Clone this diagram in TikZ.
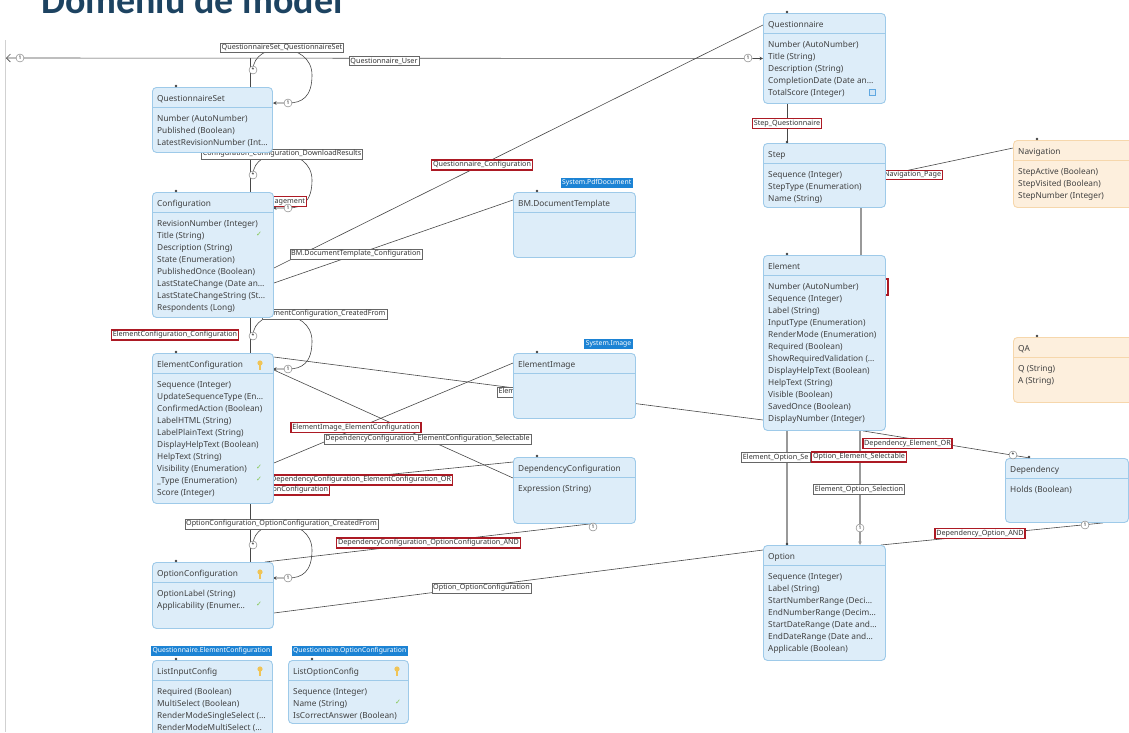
\documentclass[tikz,border=0pt]{standalone}
\usepackage{fontspec}
\usepackage{tikz}
\usetikzlibrary{arrows.meta,calc}
\newfontfamily\diafont{Noto Sans}
\newfontfamily\titlefont{Carlito}
\newfontfamily\symfont{DejaVu Sans}
\definecolor{boxblue}{RGB}{221,237,249}
\definecolor{boxedge}{RGB}{158,202,233}
\definecolor{boxorange}{RGB}{253,239,221}
\definecolor{edgeorange}{RGB}{246,215,172}
\definecolor{tagblue}{RGB}{28,131,212}
\definecolor{labelred}{RGB}{172,26,36}
\definecolor{titleblue}{RGB}{29,67,97}
\definecolor{linegray}{RGB}{72,72,72}
\definecolor{okgreen}{RGB}{126,196,72}
\definecolor{keyyellow}{RGB}{240,196,86}
\pgfdeclarelayer{lines}
\pgfdeclarelayer{labels}
\pgfsetlayers{lines,labels,main}

% entity box: [style]{name}{x}{y}{width}{height}{header}
\newcommand{\umlbox}[7][entity]{%
  \node[#1, minimum width=#5pt, minimum height=#6pt] (#2) at (#3,#4) {};
  \draw[#1, fill=none, rounded corners=0pt] ([yshift=-20pt]#2.north west) -- ([yshift=-20pt]#2.north east);
  \fill[black!75] ([xshift=24pt,yshift=1pt]#2.north west) circle (1.3pt);
  \node[attr] (#2-head) at ([xshift=5pt,yshift=-14pt]#2.north west) {#7};
}
% attribute lines of a box
\newcommand{\attrs}[2]{%
  \foreach \t [count=\i] in {#2}
    \node[attr] (#1-a\i) at ([xshift=5pt,yshift={-22pt-12pt*\i}]#1.north west) {\t};
}
\newcommand{\keyicon}[2]{%
  \begin{scope}[shift={(#1,#2)}]
    \fill[keyyellow] (0,-2) circle (2.6pt);
    \fill[keyyellow] (-0.9,0) rectangle (0.9,5);
  \end{scope}
}
\newcommand{\okmark}[3]{\node[text=okgreen, inner sep=0pt, font=\symfont\fontsize{7}{7}\selectfont] (#1) at (#2,#3) {✓};}
% self association drawn on the right of a box
\newcommand{\selfloop}[1]{%
  \begin{scope}[shift={(#1.north west)}]
    \draw[conn, tip] (101,-17) .. controls (101,-46) and (160,-46) .. (160,-12)
      .. controls (160,10) and (150,16) .. (136,16) -- (121,16);
  \end{scope}
}
\newcommand{\loopmarks}[1]{%
  \begin{scope}[shift={(#1.north west)}]
    \node[mult] (#1-m1) at (101,-17) {*};
    \node[mult] (#1-m2) at (136,16) {1};
  \end{scope}
}

\begin{document}
\begin{tikzpicture}[x=1pt,y=-1pt,
    entity/.style={draw=boxedge, fill=boxblue, line width=0.9pt, rounded corners=4pt, anchor=north west, inner sep=0pt},
    orangeentity/.style={entity, draw=edgeorange, fill=boxorange},
    attr/.style={anchor=base west, inner sep=0pt, font=\diafont\fontsize{8.3}{10}\selectfont, text=black!75},
    lbl/.style={draw=black!60, fill=white, line width=0.5pt, inner sep=1.3pt, font=\diafont\fontsize{7.2}{8}\selectfont, text=black!80},
    redlbl/.style={lbl, draw=labelred, line width=1.3pt},
    tag/.style={fill=tagblue, text=white, inner sep=1.6pt, anchor=south east, font=\diafont\fontsize{6.8}{7}\selectfont},
    conn/.style={draw=linegray, line width=0.6pt},
    heavy/.style={draw=black!40, line width=1.7pt},
    mult/.style={circle, draw=black!55, fill=white, inner sep=0pt, minimum size=8pt, font=\diafont\fontsize{5}{5}\selectfont},
    tip/.style={-{Stealth[length=3.5pt,width=3.5pt]}}]
  \useasboundingbox (0,0) rectangle (1129,732);
  \clip (0,0) rectangle (1129,732);

  % Title
  \node[anchor=base west, inner sep=0pt, text=titleblue, font=\titlefont\bfseries\fontsize{38}{40}\selectfont] (title) at (41,13.5) {Domeniu de model};
  \draw[black!18, line width=0.8pt] (5,40) -- (5,732);

  % Right column
  \umlbox{quest}{763}{13}{122}{90}{Questionnaire}
  \attrs{quest}{{Number (AutoNumber)}, {Title (String)}, {Description (String)}, {CompletionDate (Date an\dots}, {TotalScore (Integer)}}
  \draw[tagblue!70, fill=tagblue!20] (869,89) rectangle (875,95);
  \umlbox{step}{763}{143}{122}{64}{Step}
  \attrs{step}{{Sequence (Integer)}, {StepType (Enumeration)}, {Name (String)}}
  \umlbox[orangeentity]{nav}{1013}{140}{130}{67}{Navigation}
  \attrs{nav}{{StepActive (Boolean)}, {StepVisited (Boolean)}, {StepNumber (Integer)}}
  \umlbox[orangeentity]{qa}{1013}{337}{130}{65}{QA}
  \attrs{qa}{{Q (String)}, {A (String)}}
  \umlbox{elem}{763}{255}{122}{175}{Element}
  \attrs{elem}{{Number (AutoNumber)}, {Sequence (Integer)}, {Label (String)}, {InputType (Enumeration)}, {RenderMode (Enumeration)}, {Required (Boolean)}, {ShowRequiredValidation (\dots}, {DisplayHelpText (Boolean)}, {HelpText (String)}, {Visible (Boolean)}, {SavedOnce (Boolean)}, {DisplayNumber (Integer)}}
  \umlbox{dep}{1005}{458}{123}{64}{Dependency}
  \attrs{dep}{{Holds (Boolean)}}
  \umlbox{opt}{763}{545}{122}{115}{Option}
  \attrs{opt}{{Sequence (Integer)}, {Label (String)}, {StartNumberRange (Deci\dots}, {EndNumberRange (Decim\dots}, {StartDateRange (Date and\dots}, {EndDateRange (Date and\dots}, {Applicable (Boolean)}}

  % Left column
  \umlbox{qset}{152}{87}{120}{65}{QuestionnaireSet}
  \attrs{qset}{{Number (AutoNumber)}, {Published (Boolean)}, {LatestRevisionNumber (Int\dots}}
  \umlbox{cfg}{152}{192}{121}{125}{Configuration}
  \attrs{cfg}{{RevisionNumber (Integer)}, {Title (String)}, {Description (String)}, {State (Enumeration)}, {PublishedOnce (Boolean)}, {LastStateChange (Date an\dots}, {LastStateChangeString (St\dots}, {Respondents (Long)}}
  \okmark{cfg-ok}{259}{234}
  \umlbox{elcfg}{152}{353}{121}{150}{ElementConfiguration}
  \attrs{elcfg}{{Sequence (Integer)}, {UpdateSequenceType (En\dots}, {ConfirmedAction (Boolean)}, {LabelHTML (String)}, {LabelPlainText (String)}, {DisplayHelpText (Boolean)}, {HelpText (String)}, {Visibility (Enumeration)}, {\_Type (Enumeration)}, {Score (Integer)}}
  \keyicon{260}{365}
  \okmark{elcfg-ok1}{259}{467}
  \okmark{elcfg-ok2}{259}{479}
  \umlbox{optcfg}{152}{562}{121}{66}{OptionConfiguration}
  \attrs{optcfg}{{OptionLabel (String)}, {Applicability (Enumer\dots}}
  \keyicon{260}{574}
  \okmark{optcfg-ok}{259}{604}
  \umlbox{listin}{152}{660}{120}{90}{ListInputConfig}
  \attrs{listin}{{Required (Boolean)}, {MultiSelect (Boolean)}, {RenderModeSingleSelect (\dots}, {RenderModeMultiSelect (\dots}}
  \keyicon{260}{671}
  \umlbox{listopt}{288}{660}{120}{63}{ListOptionConfig}
  \attrs{listopt}{{Sequence (Integer)}, {Name (String)}, {IsCorrectAnswer (Boolean)}}
  \keyicon{397}{671}
  \okmark{listopt-ok}{398}{702}

  % Middle column
  \umlbox{pdf}{513}{192}{122}{65}{BM.DocumentTemplate}
  \umlbox{img}{513}{353}{122}{65}{ElementImage}
  \umlbox{depcfg}{513}{457}{122}{66}{DependencyConfiguration}
  \attrs{depcfg}{{Expression (String)}}

  % Module tags
  \node[tag] (tag-pdf) at (633,188) {System.PdfDocument};
  \node[tag] (tag-img) at (633,349) {System.Image};
  \node[tag] (tag-lin) at (272,656) {Questionnaire.ElementConfiguration};
  \node[tag] (tag-lop) at (408,656) {Questionnaire.OptionConfiguration};

  % Associations
  \coordinate (westend) at (6,58);
  \coordinate (qsjoin) at (250,58);
  \begin{pgfonlayer}{lines}
    \draw[conn, {Straight Barb[length=4pt]}-{Stealth[length=3.5pt,width=3.5pt]}] (westend) -- (quest.west);
    \draw[conn] (qsjoin) -- ([xshift=98pt]qset.north west);
    \draw[conn] ([xshift=98pt]qset.south west) -- ([xshift=98pt]cfg.north west);
    \draw[conn] ([xshift=98pt]cfg.south west) -- ([xshift=98pt]elcfg.north west);
    \draw[conn] ([xshift=98pt]elcfg.south west) -- ([xshift=98pt]optcfg.north west);
    \selfloop{qset}
    \selfloop{cfg}
    \selfloop{elcfg}
    \selfloop{optcfg}
    \draw[conn] ([yshift=-76pt]cfg.north east) -- ([yshift=-12pt]quest.north west);
    \draw[conn] ([yshift=-91pt]cfg.north east) -- ([yshift=-8pt]pdf.north west);
    \draw[conn] ([yshift=-4pt]elcfg.north east) -- ([yshift=-165pt]elem.north west);
    \draw[conn] ([yshift=-10pt]img.north west) -- ([yshift=-110pt]elcfg.north east);
    \draw[conn] ([yshift=-17pt]elcfg.north east) -- ([yshift=-21pt]depcfg.north west);
    \draw[conn] ([yshift=-133pt]elcfg.north east) -- ([yshift=-5pt]depcfg.north west);
    \draw[conn] ([xshift=113pt]optcfg.north west) -- ([xshift=77pt]depcfg.south west);
    \draw[conn] ([yshift=-51pt]optcfg.north east) -- ([yshift=-5pt]opt.north west);
    \draw[conn] ([xshift=24pt]quest.south west) -- ([xshift=24pt]step.north west);
    \draw[conn] ([yshift=-32pt]step.north east) -- ([yshift=-8pt]nav.north west);
    \draw[heavy] ([xshift=98pt]step.south west) -- ([xshift=98pt]elem.north west);
    \draw[heavy] ([xshift=24pt]elem.south west) -- ([xshift=24pt]opt.north west);
    \draw[heavy, tip] ([xshift=97pt]elem.south west) -- ([xshift=97pt]opt.north west);
    \draw[conn] ([xshift=100pt]elem.south west) -- ([xshift=25pt]dep.north west);
    \draw[conn] ([xshift=-5pt]opt.north east) -- ([xshift=98pt]dep.south west);
  \end{pgfonlayer}

  % Association names
  \begin{pgfonlayer}{labels}
    \node[lbl] (l-qsqs) at (282,47.5) {QuestionnaireSet\_QuestionnaireSet};
    \node[lbl] (l-quser) at (384,61) {Questionnaire\_User};
    \node[lbl] (l-download) at (282,154) {Configuration\_Configuration\_DownloadResults};
    \node[redlbl, anchor=east] (l-mgmt) at (307,201.5) {Management};
    \node[lbl, anchor=east] (l-created) at (387,314) {ElementConfiguration\_CreatedFrom};
    \node[redlbl] (l-elcfgcfg) at (175,335) {ElementConfiguration\_Configuration};
    \node[lbl] (l-optcreated) at (281.5,524) {OptionConfiguration\_OptionConfiguration\_CreatedFrom};
    \node[redlbl] (l-qcfg) at (482,165) {Questionnaire\_Configuration};
    \node[lbl] (l-pdfcfg) at (356,254) {BM.DocumentTemplate\_Configuration};
    \node[lbl] (l-selectable) at (427.5,439) {DependencyConfiguration\_ElementConfiguration\_Selectable};
    \node[redlbl] (l-imgel) at (356,427.5) {ElementImage\_ElementConfiguration};
    \node[redlbl, anchor=east] (l-or) at (453,480) {DependencyConfiguration\_ElementConfiguration\_OR};
    \node[redlbl, anchor=east] (l-optel) at (330,490) {OptionConfiguration};
    \node[redlbl] (l-and) at (428.5,543) {DependencyConfiguration\_OptionConfiguration\_AND};
    \node[lbl] (l-optopt) at (481.5,588) {Option\_OptionConfiguration};
    \node[lbl, anchor=west] (l-elimg) at (497,392) {Element\_ElementConfiguration};
    \node[redlbl] (l-stepq) at (787,123.5) {Step\_Questionnaire};
    \node[redlbl, anchor=east] (l-nav) at (943,175) {Navigation\_Page};
    \draw[labelred, line width=1.3pt, fill=white] (878,279) rectangle (888,295);
    \node[lbl, anchor=east] (l-eos) at (810,457.5) {Element\_Option\_Se};
    \node[redlbl] (l-oes) at (859,457) {Option\_Element\_Selectable};
    \node[lbl] (l-eosel) at (859,489.5) {Element\_Option\_Selection};
    \node[redlbl] (l-depel) at (907.5,443.5) {Dependency\_Element\_OR};
    \node[redlbl] (l-depopt) at (980,533.5) {Dependency\_Option\_AND};
  \end{pgfonlayer}

  % Multiplicities
  \node[mult] (m-west) at (20,58) {1};
  \node[mult] (m-quest) at (748,58) {1};
  \loopmarks{qset}
  \loopmarks{cfg}
  \loopmarks{elcfg}
  \loopmarks{optcfg}
  \node[mult] (m-opt) at (860,528) {1};
  \node[mult] (m-dep) at (1013,455) {*};
  \node[mult] (m-depopt) at (1085,525) {1};
  \node[mult] (m-depcfg) at (593,527) {1};
\end{tikzpicture}
\end{document}
